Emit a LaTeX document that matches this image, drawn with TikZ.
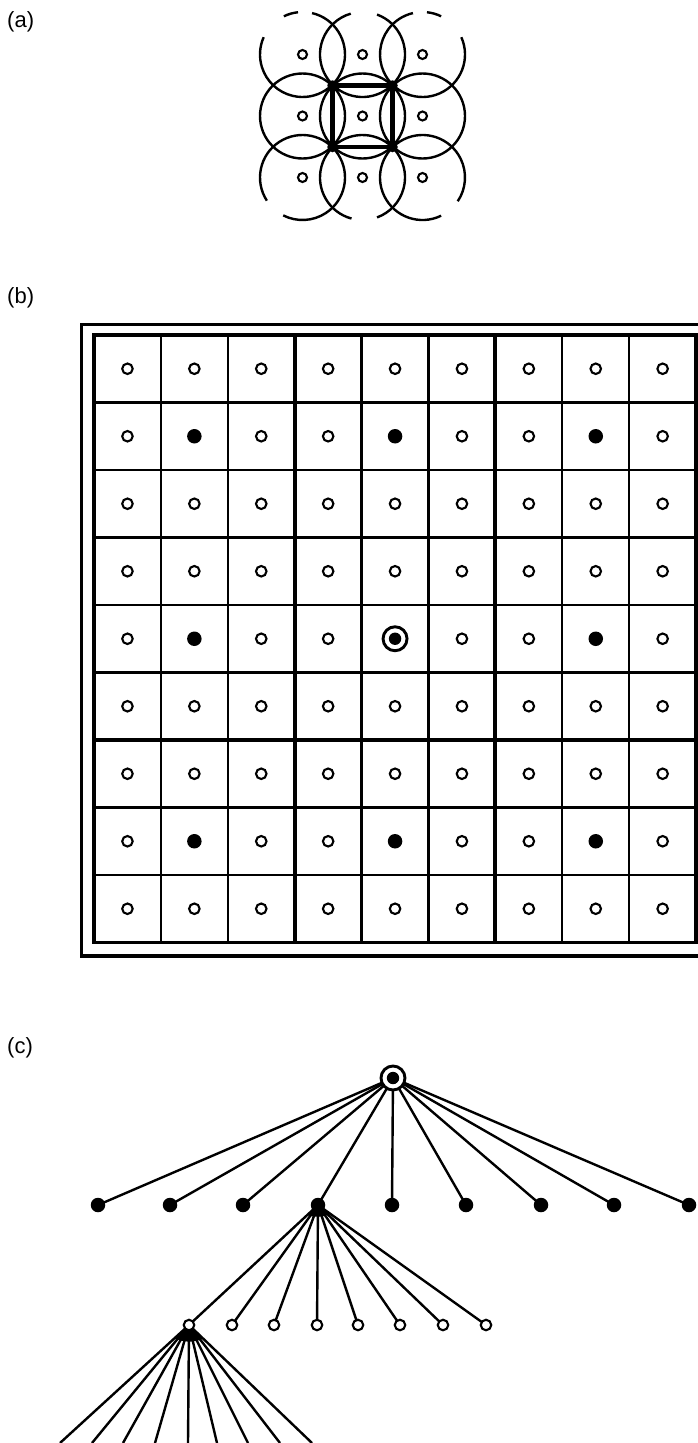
\documentclass[tikz,border=0pt]{standalone}
\usepackage{fontspec}
\setmainfont{Liberation Sans}
\usetikzlibrary{backgrounds,calc}
\begin{document}
\begin{tikzpicture}[x=1pt,y=-1pt,
  lbl/.style={anchor=west,inner sep=0pt,font=\fontsize{22}{25}\selectfont},
  arcline/.style={line width=2.4pt},
  sqline/.style={line width=4.2pt,line join=miter},
  opn/.style={circle,draw,fill=white,line width=2.1pt,minimum size=10.5pt,inner sep=0pt},
  opna/.style={circle,draw,fill=white,line width=2.1pt,minimum size=9pt,inner sep=0pt},
  dotb/.style={circle,fill=black,minimum size=14.5pt,inner sep=0pt},
  dota/.style={circle,fill=black,minimum size=10.5pt,inner sep=0pt},
  ring/.style={circle,draw,fill=white,line width=2.9pt,minimum size=24pt,inner sep=0pt,
     path picture={\fill[black] (path picture bounding box.center) circle[radius=6.2pt];}},
  gthin/.style={line width=2.3pt},
  gthick/.style={line width=3.9pt},
  edge/.style={line width=2.4pt},
]
\useasboundingbox (0,0) rectangle (698,1443);

% ---------- labels ----------
\node[lbl] (la) at (7,21.5) {(a)};
\node[lbl] (lb) at (7,298) {(b)};
\node[lbl] (lc) at (7,1048) {(c)};

% ---------- (a) ----------
\def\ra{42.5}
\foreach \cx/\cy/\s/\e in {302.5/54.5/-77/204, 302.5/54.5/244/264,
    362.5/54.5/-70/254,
    422.5/54.5/-24/257, 422.5/54.5/276/296,
    302.5/116/0/360, 362.5/116/0/360, 422.5/116/0/360,
    302.5/177.5/147/477, 362.5/177.5/105/430, 422.5/177.5/64/394}
  \draw[arcline] (\cx,\cy) ++(\s:\ra) arc[start angle=\s,end angle=\e,radius=\ra];
\node[dota] (q1) at (332.5,85.5) {};
\node[dota] (q2) at (392.5,85.5) {};
\node[dota] (q3) at (332.5,147) {};
\node[dota] (q4) at (392.5,147) {};
\draw[sqline] (q1.center) -- (q2.center) -- (q4.center) -- (q3.center) -- cycle;
\foreach \x [count=\i] in {302.5,362.5,422.5}
  \foreach \y [count=\j] in {54.5,116,177.5}
    \node[opna] (a\i\j) at (\x,\y) {};

% ---------- (b) ----------
\def\bx{94}\def\by{335}\def\dx{66.9}\def\dy{67.5}
\draw[gthick] (698,324.5) -- (81.5,324.5) -- (81.5,956) -- (698,956);
\foreach \k in {1,2,4,5,7,8} {
  \draw[gthin] ({\bx+\k*\dx},\by) -- ({\bx+\k*\dx},{\by+9*\dy});
  \draw[gthin] (\bx,{\by+\k*\dy}) -- ({\bx+9*\dx},{\by+\k*\dy});
}
\foreach \k in {3,6} {
  \draw[gthick] ({\bx+\k*\dx},\by) -- ({\bx+\k*\dx},{\by+9*\dy});
  \draw[gthick] (\bx,{\by+\k*\dy}) -- ({\bx+9*\dx},{\by+\k*\dy});
}
\draw[gthick] (\bx,\by) rectangle ({\bx+9*\dx},{\by+9*\dy});
\foreach \i in {0,...,8} {
  \foreach \j in {0,...,8} {
    \pgfmathtruncatemacro\kk{and(mod(\i,3)==1,mod(\j,3)==1)+and(\i==4,\j==4)}
    \ifcase\kk
      \node[opn] (b\i\j) at ({\bx+(\i+0.5)*\dx},{\by+(\j+0.5)*\dy}) {};
    \or
      \node[dotb] (b\i\j) at ({\bx+(\i+0.5)*\dx},{\by+(\j+0.5)*\dy}) {};
    \or
      \node[ring] (b\i\j) at ({\bx+(\i+0.5)*\dx},{\by+(\j+0.5)*\dy}) {};
    \fi
  }
}

% ---------- (c) ----------
\node[ring] (root) at (393,1078) {};
\foreach \x [count=\i] in {98,170,243,318,392,466,541,614,689}
  \node[dotb] (c\i) at (\x,1205) {};
\foreach \x [count=\i] in {189,232,274,317,358,400,443,486}
  \node[opn] (d\i) at (\x,1325) {};
\foreach \x [count=\i] in {60,92,123,155,188,217,248,280,312}
  \coordinate (e\i) at (\x,1443);
\begin{pgfonlayer}{background}
  \foreach \i in {1,...,9} \draw[edge] (root.center) -- (c\i.center);
  \foreach \i in {1,...,8} \draw[edge] (c4.center) -- (d\i.center);
  \foreach \i in {1,...,9} \draw[edge] (d1.center) -- (e\i);
  % dark wedge where the fan lines merge below the hub
  \fill[black] (d1.center) -- ($(d1.center)!20pt!(e1)$) to[bend right=20] ($(d1.center)!20pt!(e9)$) -- cycle;
  \fill[black] (c4.center) -- ($(c4.center)!15pt!(d1)$) to[bend right=20] ($(c4.center)!15pt!(d8)$) -- cycle;
\end{pgfonlayer}
\end{tikzpicture}
\end{document}
